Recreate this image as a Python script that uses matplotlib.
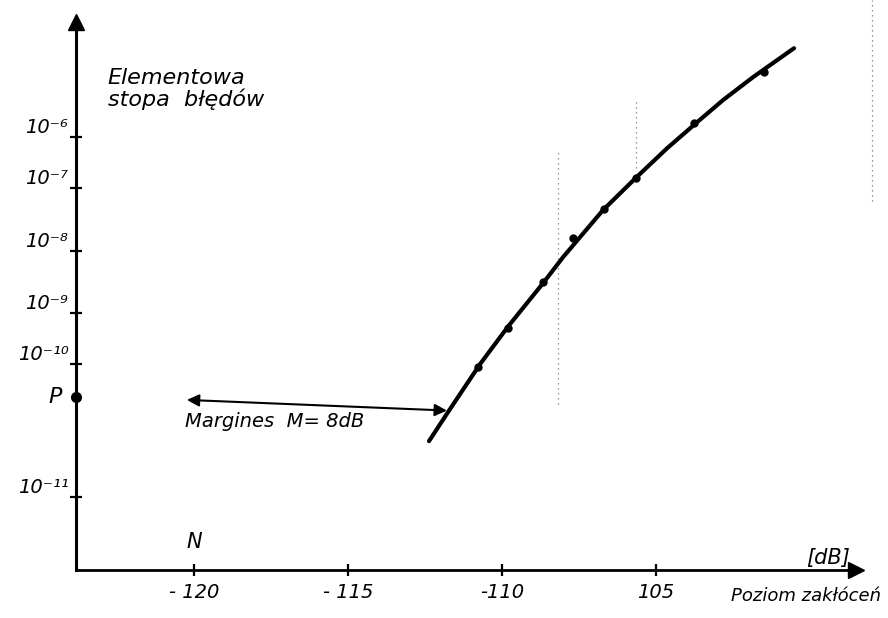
import numpy as np
import matplotlib
matplotlib.use('Agg')
import matplotlib.pyplot as plt

plt.rcParams['font.family'] = ['DejaVu Sans']

# ---- data ----
x_ticks = [-120, -115, -110, -105]
x_ticklabels = ['- 120', '- 115', '-110', '105']

y_tick_exp = [-6, -7, -8, -9, -10, -11]
y_ticklabels = ['10⁻⁶', '10⁻⁷', '10⁻⁸', '10⁻⁹', '10⁻¹⁰', '10⁻¹¹']

# hand-drawn (non uniform) decade spacing of the vertical axis
anchor_exp = [-14.0, -12.0, -11.0, -10.0, -9.0, -8.0, -7.0, -6.0, -3.3, -2.0]
anchor_row = [716, 570, 497, 364, 313, 251, 188, 137, 0, -66]

# measured points (dB, log10 of error rate)
meas_db = [-110.78, -109.81, -108.67, -107.69, -106.69, -105.65, -103.77, -101.49]
meas_exp = [-10.02, -9.29, -8.50, -7.79, -7.33, -6.80, -5.73, -4.71]

# drawn curve
curve_db = [-112.37, -111.72, -110.71, -109.81, -108.67, -108.02, -106.72,
            -105.62, -104.64, -103.67, -102.82, -101.85, -100.52]
curve_exp = [-10.58, -10.35, -10.00, -9.27, -8.52, -8.10, -7.35,
             -6.78, -6.22, -5.71, -5.27, -4.82, -4.25]

p_exp = -10.25
margin_db = [-120.23, -111.79]
margin_exp = [-10.27, -10.35]

# faint dotted scan marks
guide_db = [-108.18, -105.65, -97.99]
guide_lo = [-10.30, -6.60, -7.20]
guide_hi = [-6.25, -5.30, -3.30]

# ---- scale ----
a_e = np.array(anchor_exp)
a_h = -np.array(anchor_row, dtype=float)


def fwd(v):
    return np.interp(v, a_e, a_h)


def inv(h):
    return np.interp(h, a_h, a_e)


W, H = 888, 618
fig = plt.figure(figsize=(W / 100, H / 100), dpi=100)
ax = fig.add_axes([76 / W, (H - 570) / H, (W - 76) / W, 570 / H])
ax.set_yscale('function', functions=(fwd, inv))
ax.set_xlim(-123.83, -97.47)
ax.set_ylim(-12.0, -3.3)
ax.patch.set_alpha(0)

for s in ['top', 'right']:
    ax.spines[s].set_visible(False)
ax.spines['left'].set_linewidth(2.2)
ax.spines['bottom'].set_linewidth(2.0)
ax.spines['left'].set_bounds(-12.0, -3.8)
ax.spines['bottom'].set_bounds(-123.83, -98.7)
# arrow heads of the axes
ax.plot(-98.5, -12.0, marker='>', color='black', markersize=11, clip_on=False)
ax.plot(-123.83, -3.73, marker='^', color='black', markersize=11, clip_on=False)

ax.set_xticks(x_ticks)
ax.set_xticklabels(x_ticklabels, fontsize=14, style='italic')
ax.set_yticks(y_tick_exp)
ax.set_yticklabels(y_ticklabels, fontsize=14, style='italic')
for lab in ax.get_yticklabels():
    lab.set_verticalalignment('bottom')
ax.tick_params(axis='both', direction='inout', length=9, width=1.6, colors='black')
ax.tick_params(axis='x', pad=5)
ax.tick_params(axis='y', pad=1)
ax.minorticks_off()

# guide dotted marks
for gx, lo, hi in zip(guide_db, guide_lo, guide_hi):
    ax.plot([gx, gx], [lo, hi], color='#777777', lw=0.9, ls=(0, (1, 3)), clip_on=False)

# curve and points
ax.plot(curve_db, curve_exp, color='black', lw=3.0, solid_capstyle='round', zorder=3)
ax.plot(meas_db, meas_exp, 'o', color='black', markersize=5, zorder=4)

# P point
ax.plot(-123.83, p_exp, 'o', color='black', markersize=7, clip_on=False, zorder=5)
ax.text(-124.3, p_exp, 'P', fontsize=16, style='italic', ha='right', va='center')

# margin arrow
ax.annotate('', xy=(margin_db[0], margin_exp[0]), xytext=(margin_db[1], margin_exp[1]),
            arrowprops=dict(arrowstyle='<|-|>', color='black', lw=1.5,
                            mutation_scale=18, shrinkA=0, shrinkB=0))
ax.text(-120.3, -10.43, 'Margines  M= 8dB', fontsize=14, style='italic',
        ha='left', va='center')

# texts
ax.text(-122.8, -5.05, 'Elementowa\nstopa  błędów', fontsize=16, style='italic',
        ha='left', va='center', linespacing=1.0)
ax.text(-120.0, -11.62, 'N', fontsize=15, style='italic', ha='center', va='center')
ax.text(-98.7, -11.83, '[dB]', fontsize=15, style='italic', ha='right', va='center')
ax.text(-97.7, -12.36, 'Poziom zakłóceń', fontsize=13, style='italic',
        ha='right', va='center', clip_on=False)

fig.text(466 / W, 1 - 4 / H, '26', fontsize=13, ha='center', va='bottom')

fig.savefig('out.png', dpi=100)
